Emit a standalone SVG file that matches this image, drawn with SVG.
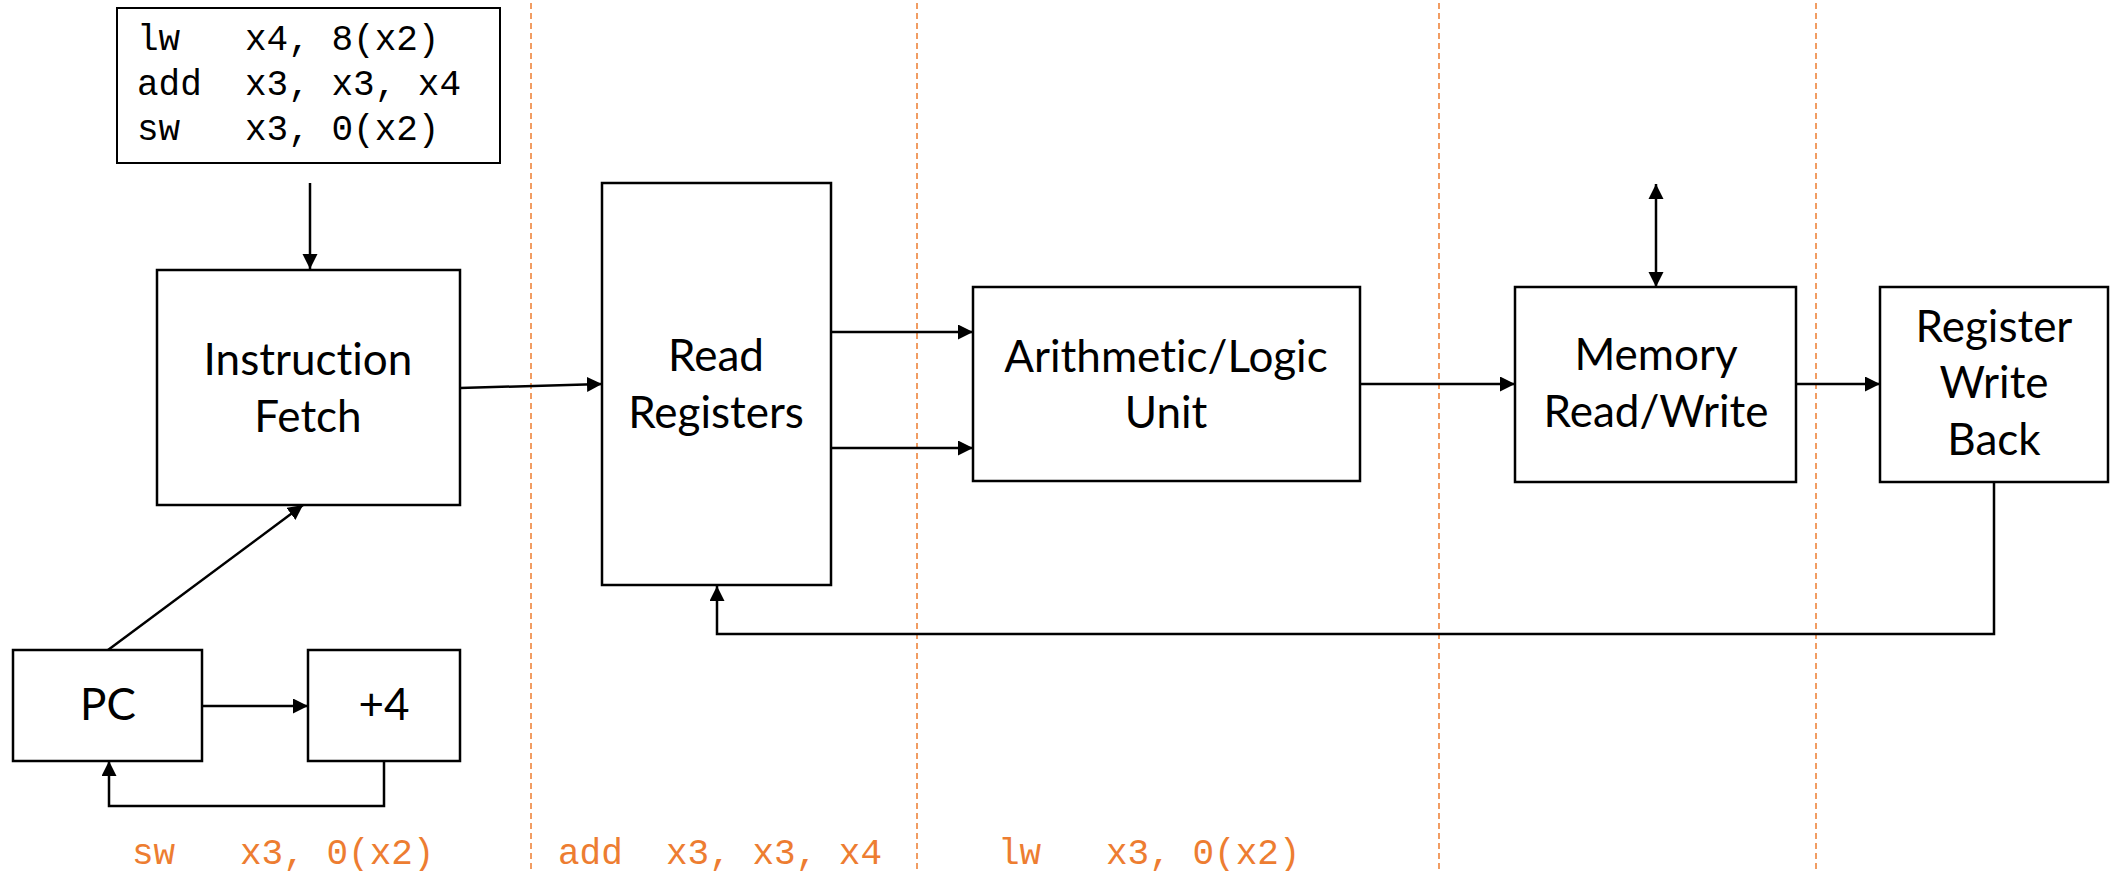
<svg xmlns="http://www.w3.org/2000/svg" width="2120" height="871" viewBox="0 0 2120 871">
  <style>
    .box { fill: #ffffff; stroke: #000000; stroke-width: 2.5; }
    .code-box { fill: #ffffff; stroke: #000000; stroke-width: 2; }
    .label { font-family: Lato, "Liberation Sans", sans-serif; font-size: 44px; fill: #000000; text-anchor: middle; font-variant-ligatures: none; font-feature-settings: "liga" 0, "clig" 0; }
    .code { font-family: "Liberation Mono", "Courier New", monospace; font-size: 36px; fill: #000000; white-space: pre; }
    .code-orange { font-family: "Liberation Mono", "Courier New", monospace; font-size: 36px; fill: #ED7D31; white-space: pre; }
    .wire { fill: none; stroke: #000000; stroke-width: 2.5; }
    .stage { stroke: #ED7D31; stroke-width: 1.5; stroke-dasharray: 6 4; }
  </style>
  <defs>
    <marker id="arrow" markerUnits="userSpaceOnUse" markerWidth="16" markerHeight="16" refX="15" refY="7.5" orient="auto">
      <path d="M0,0 L15,7.5 L0,15 z" fill="#000000"/>
    </marker>
    <marker id="arrow-start" markerUnits="userSpaceOnUse" markerWidth="16" markerHeight="16" refX="0" refY="7.5" orient="auto">
      <path d="M15,0 L0,7.5 L15,15 z" fill="#000000"/>
    </marker>
  </defs>

  <rect width="2120" height="871" fill="#ffffff"/>

  <!-- pipeline stage boundaries -->
  <g id="stage-lines">
    <line class="stage" x1="531" y1="3" x2="531" y2="871"/>
    <line class="stage" x1="917" y1="3" x2="917" y2="871"/>
    <line class="stage" x1="1439" y1="3" x2="1439" y2="871"/>
    <line class="stage" x1="1816" y1="3" x2="1816" y2="871"/>
  </g>

  <!-- connectors -->
  <g id="connectors">
    <line class="wire" x1="310" y1="183" x2="310" y2="269" marker-end="url(#arrow)"/>
    <line class="wire" x1="460" y1="388" x2="602" y2="384" marker-end="url(#arrow)"/>
    <line class="wire" x1="108" y1="650" x2="303" y2="505" marker-end="url(#arrow)"/>
    <line class="wire" x1="202" y1="706" x2="308" y2="706" marker-end="url(#arrow)"/>
    <polyline class="wire" points="384,761 384,806 109,806 109,761" marker-end="url(#arrow)"/>
    <line class="wire" x1="831" y1="332" x2="973" y2="332" marker-end="url(#arrow)"/>
    <line class="wire" x1="831" y1="448" x2="973" y2="448" marker-end="url(#arrow)"/>
    <line class="wire" x1="1360" y1="384" x2="1515" y2="384" marker-end="url(#arrow)"/>
    <line class="wire" x1="1656" y1="184" x2="1656" y2="287" marker-start="url(#arrow-start)" marker-end="url(#arrow)"/>
    <line class="wire" x1="1796" y1="384" x2="1880" y2="384" marker-end="url(#arrow)"/>
    <polyline class="wire" points="1994,482 1994,634 717,634 717,586" marker-end="url(#arrow)"/>
  </g>

  <!-- instruction listing -->
  <g id="program">
    <rect class="code-box" x="117" y="8" width="383" height="155"/>
    <text class="code" x="137" y="50" xml:space="preserve">lw   x4, 8(x2)</text>
    <text class="code" x="137" y="95" xml:space="preserve">add  x3, x3, x4</text>
    <text class="code" x="137" y="140" xml:space="preserve">sw   x3, 0(x2)</text>
  </g>

  <g id="instruction-fetch">
    <rect class="box" x="157" y="270" width="303" height="235"/>
    <text class="label" x="308" y="375">Instruction</text>
    <text class="label" x="308" y="432">Fetch</text>
  </g>

  <g id="read-registers">
    <rect class="box" x="602" y="183" width="229" height="402"/>
    <text class="label" x="716" y="371">Read</text>
    <text class="label" x="716" y="428">Registers</text>
  </g>

  <g id="alu">
    <rect class="box" x="973" y="287" width="387" height="194"/>
    <text class="label" x="1166" y="372">Arithmetic/Logic</text>
    <text class="label" x="1166" y="428">Unit</text>
  </g>

  <g id="memory">
    <rect class="box" x="1515" y="287" width="281" height="195"/>
    <text class="label" x="1656" y="370">Memory</text>
    <text class="label" x="1656" y="427">Read/Write</text>
  </g>

  <g id="write-back">
    <rect class="box" x="1880" y="287" width="228" height="195"/>
    <text class="label" x="1994" y="342">Register</text>
    <text class="label" x="1994" y="398">Write</text>
    <text class="label" x="1994" y="455">Back</text>
  </g>

  <g id="pc">
    <rect class="box" x="13" y="650" width="189" height="111"/>
    <text class="label" x="108" y="720">PC</text>
  </g>

  <g id="plus4">
    <rect class="box" x="308" y="650" width="152" height="111"/>
    <text class="label" x="384" y="720">+4</text>
  </g>

  <!-- instruction currently in each stage -->
  <g id="stage-contents">
    <text class="code-orange" x="132" y="864" xml:space="preserve">sw   x3, 0(x2)</text>
    <text class="code-orange" x="558" y="864" xml:space="preserve">add  x3, x3, x4</text>
    <text class="code-orange" x="998" y="864" xml:space="preserve">lw   x3, 0(x2)</text>
  </g>
</svg>
